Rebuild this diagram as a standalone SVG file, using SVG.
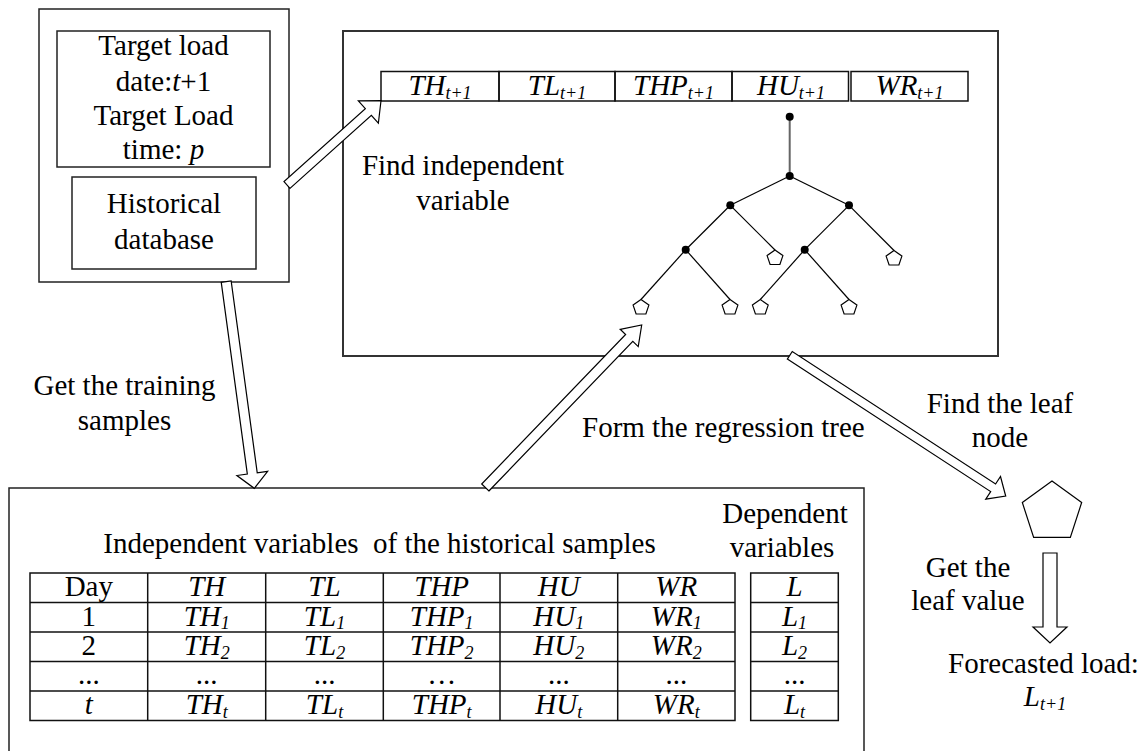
<svg xmlns="http://www.w3.org/2000/svg" width="1140" height="751" viewBox="0 0 1140 751">
  <style>
    .box { fill: none; stroke: #222; stroke-width: 1.5; }
    .big { fill: none; stroke: #333; stroke-width: 2; }
    .cell { fill: none; stroke: #111; stroke-width: 1.5; }
    .t { font-family: "Liberation Serif", "Times New Roman", serif; font-size: 29px; fill: #000; }
    .m { text-anchor: middle; }
    .i { font-style: italic; }
    .s { font-size: 18px; font-style: italic; }
    .arrow { fill: #fff; stroke: #000; stroke-width: 1.2; stroke-linejoin: miter; }
    .edge { stroke: #000; stroke-width: 1.2; fill: none; }
    .stem { stroke: #666; stroke-width: 2; fill: none; }
    .dot { fill: #000; }
    .leaf { fill: #fff; stroke: #000; stroke-width: 1.2; }
  </style>
  <defs>
    <!-- small leaf pentagon, top vertex at origin -->
    <polygon id="pent" class="leaf" points="0,0 7.9,5.6 4.9,14.5 -4.9,14.5 -7.9,5.6"/>
  </defs>

  <!-- input box: target + historical database -->
  <g id="input">
    <rect class="box" x="39" y="9" width="250" height="273"/>
    <rect class="box" x="57" y="31" width="213" height="136"/>
    <text class="t m" x="163.5" y="55">Target load</text>
    <text class="t m" x="163.5" y="90.5">date:<tspan class="i">t</tspan>+1</text>
    <text class="t m" x="163.5" y="125">Target Load</text>
    <text class="t m" x="163.5" y="159">time: <tspan class="i">p</tspan></text>
    <rect class="box" x="72" y="177" width="184" height="92"/>
    <text class="t m" x="164" y="213">Historical</text>
    <text class="t m" x="164" y="249">database</text>
  </g>

  <!-- regression tree panel -->
  <g id="tree-panel">
    <rect class="big" x="343" y="31" width="655" height="325"/>
    <g id="target-vars">
      <rect class="cell" x="381" y="71.5" width="118" height="29.5"/>
      <rect class="cell" x="499" y="71.5" width="116" height="29.5"/>
      <rect class="cell" x="615" y="71.5" width="117" height="29.5"/>
      <rect class="cell" x="732" y="71.5" width="116.5" height="29.5"/>
      <rect class="cell" x="851" y="71.5" width="117" height="29.5"/>
      <text class="t m i" x="440" y="95">TH<tspan class="s" dy="4">t+1</tspan></text>
      <text class="t m i" x="557" y="95">TL<tspan class="s" dy="4">t+1</tspan></text>
      <text class="t m i" x="673.5" y="95">THP<tspan class="s" dy="4">t+1</tspan></text>
      <text class="t m i" x="791" y="95">HU<tspan class="s" dy="4">t+1</tspan></text>
      <text class="t m i" x="909.5" y="95">WR<tspan class="s" dy="4">t+1</tspan></text>
    </g>
    <text class="t m" x="463" y="175">Find independent</text>
    <text class="t m" x="463" y="210">variable</text>
    <g id="tree">
      <line class="stem" x1="789.7" y1="116.7" x2="789.7" y2="176"/>
      <line class="edge" x1="789.7" y1="176" x2="730.3" y2="205.3"/>
      <line class="edge" x1="789.7" y1="176" x2="849" y2="205.3"/>
      <line class="edge" x1="730.3" y1="205.3" x2="685.7" y2="249.7"/>
      <line class="edge" x1="730.3" y1="205.3" x2="775" y2="250"/>
      <line class="edge" x1="849" y1="205.3" x2="804.7" y2="249.7"/>
      <line class="edge" x1="849" y1="205.3" x2="894" y2="250.5"/>
      <line class="edge" x1="685.7" y1="249.7" x2="641" y2="299.5"/>
      <line class="edge" x1="685.7" y1="249.7" x2="730" y2="299.5"/>
      <line class="edge" x1="804.7" y1="249.7" x2="760.3" y2="299.5"/>
      <line class="edge" x1="804.7" y1="249.7" x2="849" y2="299.5"/>
      <circle class="dot" cx="789.7" cy="116.7" r="4"/>
      <circle class="dot" cx="789.7" cy="176" r="4"/>
      <circle class="dot" cx="730.3" cy="205.3" r="4"/>
      <circle class="dot" cx="849" cy="205.3" r="4"/>
      <circle class="dot" cx="685.7" cy="249.7" r="4"/>
      <circle class="dot" cx="804.7" cy="249.7" r="4"/>
      <use href="#pent" x="775" y="250"/>
      <use href="#pent" x="894" y="250.5"/>
      <use href="#pent" x="641" y="299.5"/>
      <use href="#pent" x="730" y="299.5"/>
      <use href="#pent" x="760.3" y="299.5"/>
      <use href="#pent" x="849" y="299.5"/>
    </g>
  </g>

  <!-- training samples -->
  <g id="samples">
    <polyline class="box" points="9,760 9,488 864,488 864,760"/>
    <text class="t m" x="379.5" y="553" style="white-space:pre">Independent variables  of the historical samples</text>
    <text class="t m" x="785" y="523">Dependent</text>
    <text class="t m" x="782" y="557">variables</text>
    <g id="indep-table">
      <rect class="cell" x="30" y="573" width="705" height="147.5"/>
      <line class="cell" x1="30" y1="602.5" x2="735" y2="602.5"/>
      <line class="cell" x1="30" y1="632" x2="735" y2="632"/>
      <line class="cell" x1="30" y1="661.5" x2="735" y2="661.5"/>
      <line class="cell" x1="30" y1="691" x2="735" y2="691"/>
      <line class="cell" x1="147.7" y1="573" x2="147.7" y2="720.5"/>
      <line class="cell" x1="265.7" y1="573" x2="265.7" y2="720.5"/>
      <line class="cell" x1="383.3" y1="573" x2="383.3" y2="720.5"/>
      <line class="cell" x1="500" y1="573" x2="500" y2="720.5"/>
      <line class="cell" x1="617.7" y1="573" x2="617.7" y2="720.5"/>

      <text class="t m" x="88.8" y="596">Day</text>
      <text class="t m i" x="206.7" y="596">TH</text>
      <text class="t m i" x="324.5" y="596">TL</text>
      <text class="t m i" x="441.7" y="596">THP</text>
      <text class="t m i" x="558.8" y="596">HU</text>
      <text class="t m i" x="676.3" y="596">WR</text>

      <text class="t m" x="88.8" y="625.5">1</text>
      <text class="t m i" x="206.7" y="625.5">TH<tspan class="s" dy="3.5">1</tspan></text>
      <text class="t m i" x="324.5" y="625.5">TL<tspan class="s" dy="3.5">1</tspan></text>
      <text class="t m i" x="441.7" y="625.5">THP<tspan class="s" dy="3.5">1</tspan></text>
      <text class="t m i" x="558.8" y="625.5">HU<tspan class="s" dy="3.5">1</tspan></text>
      <text class="t m i" x="676.3" y="625.5">WR<tspan class="s" dy="3.5">1</tspan></text>

      <text class="t m" x="88.8" y="655">2</text>
      <text class="t m i" x="206.7" y="655">TH<tspan class="s" dy="3.5">2</tspan></text>
      <text class="t m i" x="324.5" y="655">TL<tspan class="s" dy="3.5">2</tspan></text>
      <text class="t m i" x="441.7" y="655">THP<tspan class="s" dy="3.5">2</tspan></text>
      <text class="t m i" x="558.8" y="655">HU<tspan class="s" dy="3.5">2</tspan></text>
      <text class="t m i" x="676.3" y="655">WR<tspan class="s" dy="3.5">2</tspan></text>

      <text class="t m" x="88.8" y="684">...</text>
      <text class="t m" x="206.7" y="684">...</text>
      <text class="t m" x="324.5" y="684">...</text>
      <text class="t m" x="441.7" y="684">…</text>
      <text class="t m" x="558.8" y="684">...</text>
      <text class="t m" x="676.3" y="684">...</text>

      <text class="t m i" x="88.8" y="714">t</text>
      <text class="t m i" x="206.7" y="714">TH<tspan class="s" dy="3.5">t</tspan></text>
      <text class="t m i" x="324.5" y="714">TL<tspan class="s" dy="3.5">t</tspan></text>
      <text class="t m i" x="441.7" y="714">THP<tspan class="s" dy="3.5">t</tspan></text>
      <text class="t m i" x="558.8" y="714">HU<tspan class="s" dy="3.5">t</tspan></text>
      <text class="t m i" x="676.3" y="714">WR<tspan class="s" dy="3.5">t</tspan></text>
    </g>
    <g id="dep-table">
      <rect class="cell" x="750.7" y="573" width="87.6" height="147.5"/>
      <line class="cell" x1="750.7" y1="602.5" x2="838.3" y2="602.5"/>
      <line class="cell" x1="750.7" y1="632" x2="838.3" y2="632"/>
      <line class="cell" x1="750.7" y1="661.5" x2="838.3" y2="661.5"/>
      <line class="cell" x1="750.7" y1="691" x2="838.3" y2="691"/>
      <text class="t m i" x="794.5" y="596">L</text>
      <text class="t m i" x="794.5" y="625.5">L<tspan class="s" dy="3.5">1</tspan></text>
      <text class="t m i" x="794.5" y="655">L<tspan class="s" dy="3.5">2</tspan></text>
      <text class="t m" x="794.5" y="684">...</text>
      <text class="t m i" x="794.5" y="714">L<tspan class="s" dy="3.5">t</tspan></text>
    </g>
  </g>

  <!-- found leaf and result -->
  <g id="leaf-node">
    <polygon class="leaf" points="1052,481 1081.67,502.56 1070.34,537.44 1033.66,537.44 1022.33,502.56"/>
  </g>
  <g id="result">
    <text class="t m" x="1043.5" y="673">Forecasted load:</text>
    <text class="t m i" x="1045" y="706">L<tspan class="s" dy="4">t+1</tspan></text>
  </g>

  <!-- block arrows -->
  <g id="connectors">
    <polygon class="arrow" points="290,188.35 371.35,115.4 378.36,123.21 381,100.7 358.34,100.89 365.35,108.7 284,181.65"/>
    <polygon class="arrow" points="221.25,282.37 247.33,474.11 236.92,475.53 254.3,488.3 267.64,471.35 257.23,472.77 231.15,281.03"/>
    <polygon class="arrow" points="488.9,490.97 632.82,341.44 638.23,346.64 641.7,325 620.21,329.3 625.62,334.5 481.7,484.03"/>
    <polygon class="arrow" points="787.34,359.07 990.67,491.58 985.76,499.12 1005.7,496 1000.5,476.5 995.59,484.04 792.26,351.53"/>
    <polygon class="arrow" points="1043,553 1057,553 1057,627 1067,627 1050,643 1033,627 1043,627"/>
    <text class="t" x="582" y="437">Form the regression tree</text>
    <text class="t m" x="124.5" y="395">Get the training</text>
    <text class="t m" x="124.5" y="430">samples</text>
    <text class="t m" x="1000" y="413">Find the leaf</text>
    <text class="t m" x="1000" y="447">node</text>
    <text class="t m" x="968" y="577">Get the</text>
    <text class="t m" x="968" y="610">leaf value</text>
  </g>
</svg>
